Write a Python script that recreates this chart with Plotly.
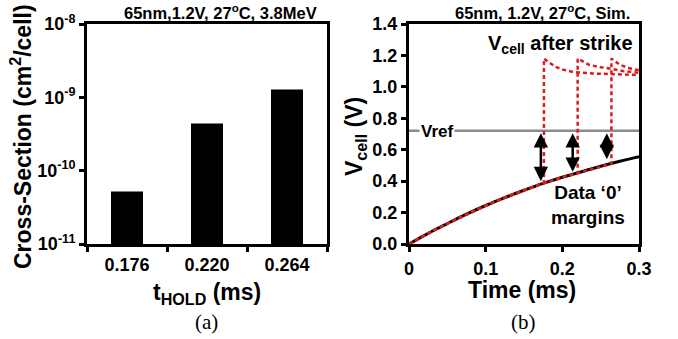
import plotly.graph_objects as go

# ---------------- data ----------------
# panel (a)
hold_labels = ["0.176", "0.220", "0.264"]
cross_section = [5.2e-11, 4.4e-10, 1.28e-9]
ytick_vals_a = [1e-11, 1e-10, 1e-9, 1e-8]
ytick_text_a = ["10<sup>-11</sup>", "10<sup>-10</sup>", "10<sup>-9</sup>", "10<sup>-8</sup>"]

# panel (b)
t_base = [0, 0.025, 0.05, 0.075, 0.1, 0.125, 0.15, 0.175, 0.2, 0.225, 0.25, 0.275, 0.3]
v_base = [0, 0.068, 0.13, 0.19, 0.245, 0.295, 0.342, 0.386, 0.425, 0.46, 0.495, 0.527, 0.556]
strike_times = [0.176, 0.220, 0.264]
v_before_strike = [0.39, 0.45, 0.51]
decay_t = [
    [0.176, 0.19, 0.2, 0.214, 0.24, 0.27, 0.3],
    [0.22, 0.235, 0.25, 0.258, 0.28, 0.3],
    [0.264, 0.275, 0.29, 0.3],
]
decay_v = [
    [1.18, 1.13, 1.11, 1.095, 1.085, 1.08, 1.075],
    [1.18, 1.14, 1.125, 1.12, 1.10, 1.09],
    [1.18, 1.14, 1.115, 1.105],
]
vref = 0.72
arrow_t = [0.172, 0.2135, 0.258]
arrow_top = [0.705, 0.705, 0.705]
arrow_bottom = [0.39, 0.45, 0.53]

BOLD = "Liberation Sans, Arial, sans-serif"
RED = "#dc1c1c"

fig = go.Figure()

# ---- panel (a) bars ----
fig.add_trace(go.Bar(x=hold_labels, y=cross_section, marker=dict(color="black", line=dict(width=0)),
                     width=0.4, xaxis="x", yaxis="y", showlegend=False))

# ---- panel (b) ----
fig.add_trace(go.Scatter(x=[0, 0.3], y=[vref, vref], mode="lines",
                         line=dict(color="#8c8c8c", width=2.5), xaxis="x2", yaxis="y2", showlegend=False))
fig.add_trace(go.Scatter(x=t_base, y=v_base, mode="lines", line=dict(color="black", width=3, shape="spline"),
                         xaxis="x2", yaxis="y2", showlegend=False))
for ts, vb, dt, dv in zip(strike_times, v_before_strike, decay_t, decay_v):
    xs = [t for t in t_base if t < ts] + [ts] + dt
    ys = [v for t, v in zip(t_base, v_base) if t < ts] + [vb] + dv
    fig.add_trace(go.Scatter(x=xs, y=ys, mode="lines",
                             line=dict(color=RED, width=2.5, dash="4px,3px"),
                             xaxis="x2", yaxis="y2", showlegend=False))

annotations = []
for at, top, bot in zip(arrow_t, arrow_top, arrow_bottom):
    annotations.append(dict(x=at, y=top, ax=at, ay=bot, xref="x2", yref="y2", axref="x2", ayref="y2",
                            text="", showarrow=True, arrowhead=2, arrowside="end+start",
                            arrowsize=1.15, arrowwidth=2.5, arrowcolor="black", standoff=0, startstandoff=0))

def txt(text, x, y, size, angle=0, family=BOLD, weight="bold", bg=None, xanchor="center"):
    d = dict(text=text, x=x / 678, y=1 - y / 339, xref="paper", yref="paper", showarrow=False,
             textangle=angle, xanchor=xanchor, yanchor="middle",
             font=dict(family=family, size=size, color="black", weight=weight))
    if bg:
        d["bgcolor"] = bg
    return d

annotations += [
    txt("65nm,1.2V, 27<sup>o</sup>C, 3.8MeV", 220, 12, 16.5),
    txt("65nm, 1.2V, 27<sup>o</sup>C, Sim.", 542, 12, 16.5),
    txt("Cross-Section (cm<sup>2</sup>/cell)", 21, 137, 23, angle=-90),
    txt("t<sub>HOLD</sub> (ms)", 207, 293, 23),
    txt("Time (ms)", 522, 290, 23),
    txt("V<sub>cell</sub> (V)", 355, 137, 23, angle=-90),
    txt("(a)", 207, 322, 21, family="Liberation Serif, Times New Roman, serif", weight="normal"),
    txt("(b)", 523, 322, 21, family="Liberation Serif, Times New Roman, serif", weight="normal"),
    txt("V<sub>cell</sub> after strike", 560, 45, 20),
    txt("Data \u20180\u2019<br>margins", 588, 205, 19),
    txt("Vref", 437, 131, 17, bg="white"),
]

axis_common = dict(showline=True, linewidth=3, linecolor="black", mirror=True, ticks="outside",
                   ticklen=5, tickwidth=2.5, tickcolor="black", showgrid=False, zeroline=False,
                   automargin=False,
                   tickfont=dict(family=BOLD, size=18, color="black", weight="bold"))

ydom = [1 - 244 / 339, 1 - 24 / 339]
fig.update_layout(
    template="none",
    width=678, height=339, margin=dict(l=0, r=0, t=0, b=0, pad=0),
    paper_bgcolor="white", plot_bgcolor="white",
    xaxis=dict(domain=[87 / 678, 327 / 678], type="category", range=[-0.5, 2.5], tickson="boundaries",
               ticklabelstandoff=2, anchor="y", **axis_common),
    yaxis=dict(domain=ydom, type="log", range=[-11, -8], tickvals=ytick_vals_a, ticktext=ytick_text_a,
               anchor="x", **axis_common),
    xaxis2=dict(domain=[409 / 678, 639 / 678], range=[0, 0.3], tickvals=[0, 0.1, 0.2, 0.3],
                ticktext=["0", "0.1", "0.2", "0.3"], ticklabelstandoff=1, anchor="y2", **axis_common),
    yaxis2=dict(domain=ydom, range=[0, 1.4], tickvals=[0, 0.2, 0.4, 0.6, 0.8, 1.0, 1.2, 1.4],
                tickformat=".1f", anchor="x2", **axis_common),
    annotations=annotations,
    bargap=0.6,
)

fig.write_html("out.html")
